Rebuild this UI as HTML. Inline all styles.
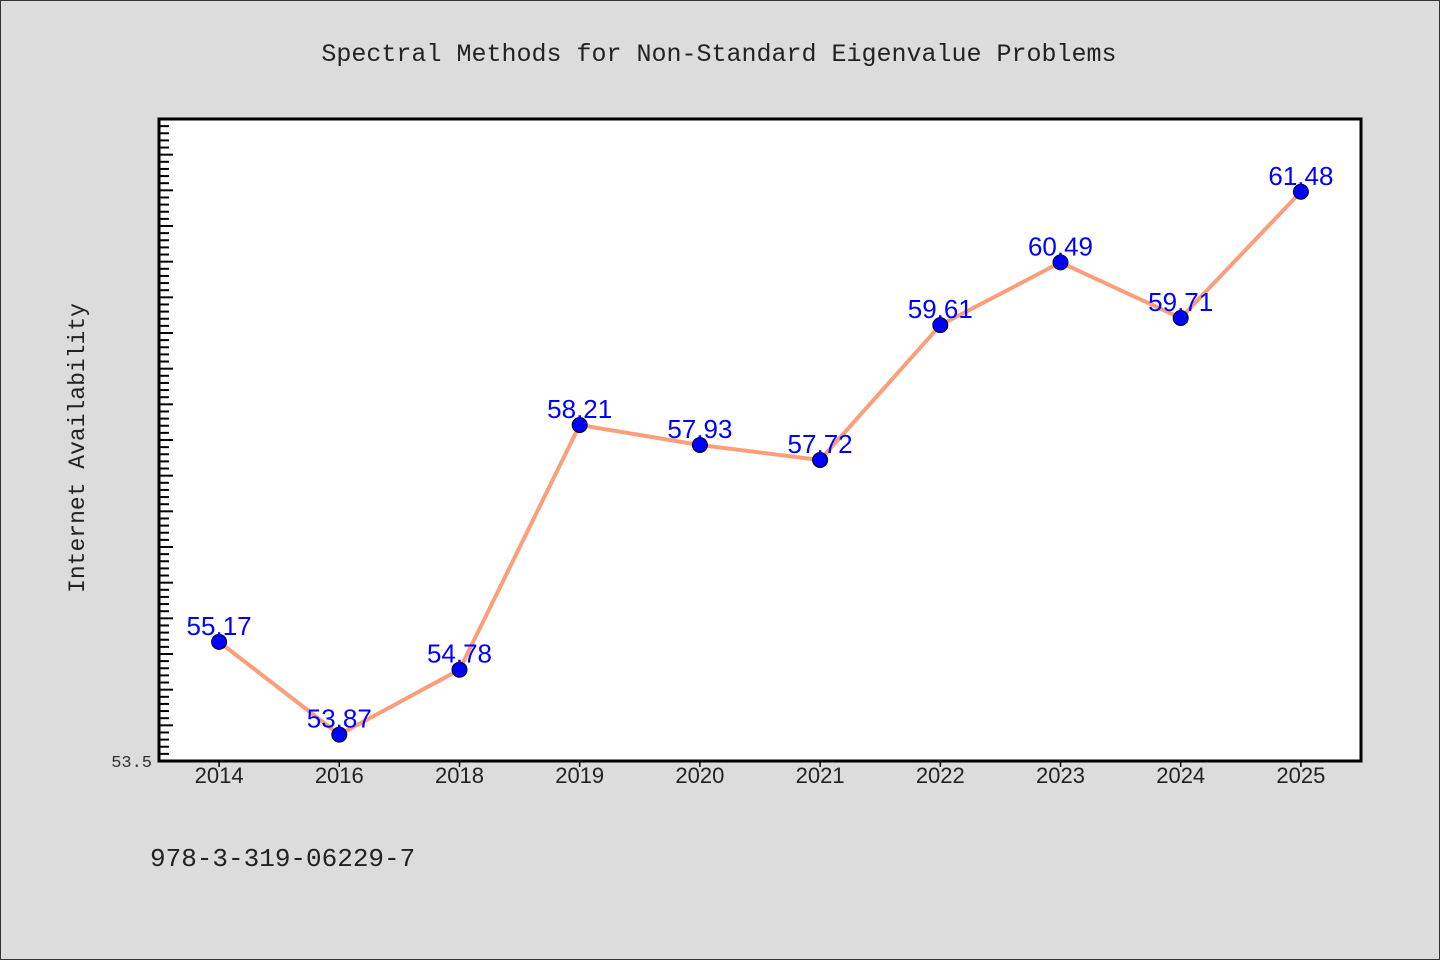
<!DOCTYPE html>
<html><head><meta charset="utf-8"><style>
body{margin:0;background:#dcdcdc;}
svg{display:block}
</style></head><body>
<svg width="1440" height="960" viewBox="0 0 1440 960" xmlns="http://www.w3.org/2000/svg">
<rect x="0.5" y="0.5" width="1439" height="959" fill="#dcdcdc" stroke="#333"/>
<text x="719" y="61" text-anchor="middle" font-family="Liberation Mono, monospace" font-size="25" fill="#222">Spectral Methods for Non-Standard Eigenvalue Problems</text>
<rect x="159" y="119" width="1202" height="642" fill="#fff"/>
<text transform="translate(84,448) rotate(-90)" text-anchor="middle" font-family="Liberation Mono, monospace" font-size="23" fill="#222">Internet Availability</text>
<text x="150" y="866" font-family="Liberation Mono, monospace" font-size="26" fill="#222">978-3-319-06229-7</text>
<g id="ticks"></g>
<g id="series"></g>
<rect x="159" y="119" width="1202" height="642" fill="none" stroke="#000" stroke-width="3"/>
</svg>
<script>
const categories=["2014","2016","2018","2019","2020","2021","2022","2023","2024","2025"];
const values=[55.17,53.87,54.78,58.21,57.93,57.72,59.61,60.49,59.71,61.48];
const yMin=53.5, yMax=62.5;
const NS="http://www.w3.org/2000/svg";
const L=159,R=1361,T=119,B=761;
const band=(R-L)/categories.length;
const x=i=>L+band*(i+0.5);
const y=v=>B-(v-yMin)/(yMax-yMin)*(B-T);
function mk(tag,attrs,parent){const e=document.createElementNS(NS,tag);for(const k in attrs)e.setAttribute(k,attrs[k]);parent.appendChild(e);return e;}
const tk=document.getElementById('ticks'), sg=document.getElementById('series');
for(let k=0;k<=Math.round((yMax-yMin)*10);k++){
  const v=yMin+k/10, major=k%5===0;
  const t=mk('line',{x1:L,x2:L+(major?14:10),y1:y(v),y2:y(v),stroke:'#000','stroke-width':2},tk);
  
  
}
const yl=mk('text',{x:152,y:767,'text-anchor':'end','font-family':'Liberation Mono, monospace','font-size':17,fill:'#333'},tk);
yl.textContent=yMin.toFixed(1);


categories.forEach((c,i)=>{
  const t=mk('line',{x1:x(i),x2:x(i),y1:B,y2:B+6,stroke:'#000','stroke-width':1.5},tk);
  
  
  const l=mk('text',{x:x(i),y:783,'text-anchor':'middle','font-family':'Liberation Sans, sans-serif','font-size':22,fill:'#222'},tk);
  l.textContent=c;
  
  
});
const line=mk('polyline',{points:values.map((v,i)=>x(i)+','+y(v)).join(' '),fill:'none',stroke:'#fa9f7a','stroke-width':4,'stroke-linejoin':'round'},sg);


values.forEach((v,i)=>{
  const c=mk('circle',{cx:x(i),cy:y(v),r:7.5,fill:'#0000ff',stroke:'#000','stroke-width':1},sg);
  
  
});
values.forEach((v,i)=>{
  const t=mk('text',{x:x(i),y:y(v)-7,'text-anchor':'middle','font-family':'Liberation Sans, sans-serif','font-size':26,fill:'#0000ff'},sg);
  t.textContent=v.toFixed(2);
  
  
});
</script>
</body></html>
